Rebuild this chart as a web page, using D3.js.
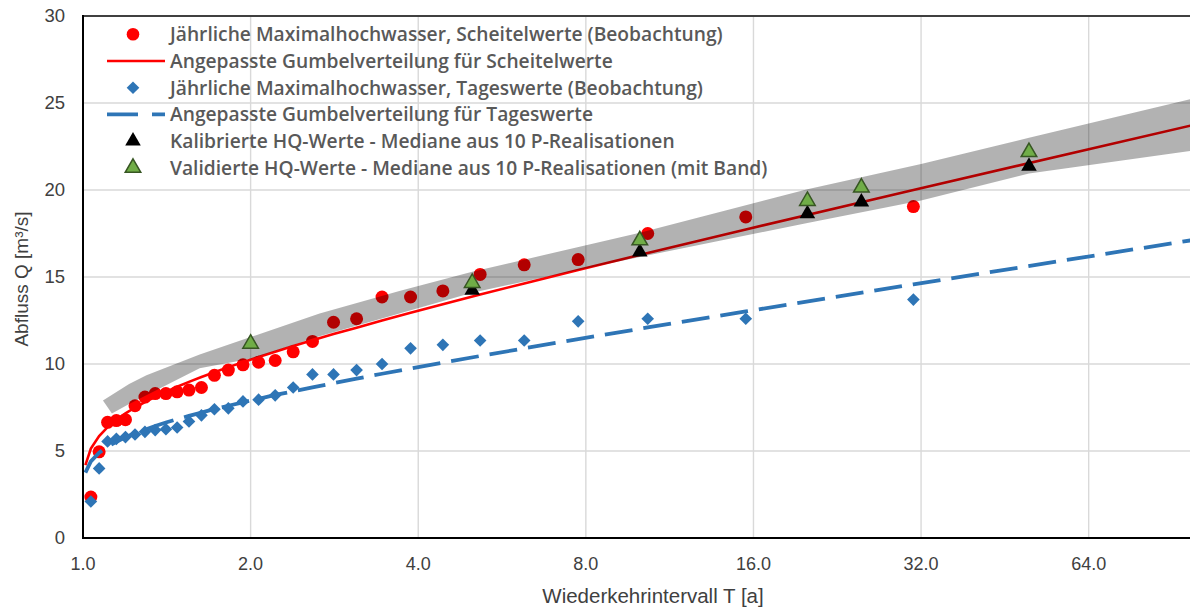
<!DOCTYPE html>
<html>
<head>
<meta charset="utf-8">
<script src="https://cdn.jsdelivr.net/npm/d3@7"></script>
<style>
  body { margin: 0; background: #fff; }
  svg { display: block; }
</style>
</head>
<body>
<svg id="chart" width="1190" height="609"></svg>
<script>
// Return periods (Weibull plotting positions) of the 30 annual maxima
const obsT = [1.033, 1.069, 1.107, 1.148, 1.192, 1.240, 1.292, 1.348, 1.409, 1.476,
              1.550, 1.632, 1.722, 1.824, 1.938, 2.067, 2.214, 2.385, 2.583, 2.818,
              3.100, 3.444, 3.875, 4.429, 5.167, 6.200, 7.750, 10.333, 15.500, 31.000];
// Annual flood peaks (Scheitelwerte) [m³/s]
const peakObs = [2.35, 4.95, 6.65, 6.75, 6.80, 7.60, 8.10, 8.30, 8.30, 8.40,
                 8.50, 8.65, 9.35, 9.65, 9.95, 10.10, 10.20, 10.70, 11.30, 12.40,
                 12.60, 13.85, 13.85, 14.20, 15.15, 15.70, 16.00, 17.50, 18.45, 19.05];
// Annual maxima of daily means (Tageswerte) [m³/s]
const dailyObs = [2.10, 4.00, 5.55, 5.70, 5.80, 5.95, 6.10, 6.20, 6.25, 6.35,
                  6.70, 7.05, 7.40, 7.45, 7.85, 7.95, 8.20, 8.65, 9.40, 9.40,
                  9.65, 10.00, 10.90, 11.10, 11.35, 11.35, 12.45, 12.60, 12.60, 13.70];

// Fitted Gumbel curves
const fitT = [1.01, 1.033, 1.069, 1.107, 1.148, 1.192, 1.240, 1.292, 1.348, 1.409, 1.476,
              1.550, 1.632, 1.722, 1.824, 1.938, 2.067, 2.214, 2.385, 2.583, 2.818,
              3.100, 3.444, 3.875, 4.429, 5.167, 6.200, 7.750, 10.333, 15.500, 31.000, 100];
const peakFit = [4.19, 5.14, 5.86, 6.37, 6.79, 7.16, 7.50, 7.81, 8.11, 8.40, 8.69,
                 8.97, 9.25, 9.53, 9.82, 10.10, 10.40, 10.71, 11.03, 11.36, 11.72,
                 12.09, 12.50, 12.94, 13.44, 13.99, 14.63, 15.40, 16.38, 17.73, 20.00, 23.78];
const dailyFit = [3.76, 4.40, 4.90, 5.25, 5.53, 5.79, 6.02, 6.23, 6.44, 6.64, 6.83,
                  7.02, 7.21, 7.41, 7.60, 7.80, 8.00, 8.22, 8.43, 8.66, 8.90,
                  9.16, 9.44, 9.74, 10.08, 10.46, 10.90, 11.43, 12.10, 13.02, 14.58, 17.16];

// Model HQ values (median of 10 parameter realisations)
const hqT = [2, 5, 10, 20, 25, 50];
const hqCalibrated = [11.17, 14.24, 16.44, 18.64, 19.31, 21.36];
const hqValidated  = [11.17, 14.66, 17.11, 19.37, 20.14, 22.18];

// Uncertainty band of the validated realisations
const bandUpperT = [1.086, 1.21, 1.30, 1.62, 2, 2.66, 3.7, 5, 10, 20, 32, 50, 100];
const bandUpper  = [7.9, 8.85, 9.35, 10.55, 11.55, 12.9, 14.2, 15.3, 17.55, 20.05, 21.5, 23.0, 25.3];
const bandLowerT = [1.127, 1.21, 1.62, 2, 2.66, 3.7, 5, 10, 20, 32, 50, 100];
const bandLower  = [7.15, 7.7, 9.75, 10.3, 11.6, 12.9, 14.1, 16.15, 18.1, 19.4, 20.95, 22.3];

// Axis ticks
const xTicks = [1, 2, 4, 8, 16, 32, 64];
const yTicks = [0, 5, 10, 15, 20, 25, 30];

const legendLabels = [
  "Jährliche Maximalhochwasser, Scheitelwerte (Beobachtung)",
  "Angepasste Gumbelverteilung für Scheitelwerte",
  "Jährliche Maximalhochwasser, Tageswerte (Beobachtung)",
  "Angepasste Gumbelverteilung für Tageswerte",
  "Kalibrierte HQ-Werte - Mediane aus 10 P-Realisationen",
  "Validierte HQ-Werte - Mediane aus 10 P-Realisationen (mit Band)"
];

(function () {
const RED = "#ff0000", BLUE = "#2e75b6", GREEN = "#70ad47", GREEN_DARK = "#375623";
const TEXT = "#595959";

const svg = d3.select("#chart");
const plotLeft = 83, plotTop = 16, plotBottom = 538;

const x = d3.scaleLog().base(2).domain([1, 100]).range([plotLeft, 1196.6]);
const y = d3.scaleLinear().domain([0, 30]).range([plotBottom, plotTop]);
const plotRight = x(100);

svg.append("defs").append("clipPath").attr("id", "plotClip")
  .append("rect").attr("x", plotLeft).attr("y", plotTop)
  .attr("width", plotRight - plotLeft).attr("height", plotBottom - plotTop);

// Gridlines
const grid = svg.append("g");
grid.selectAll("line.h").data(yTicks.filter(v => v > 0 && v < 30)).join("line")
  .attr("x1", plotLeft).attr("x2", plotRight).attr("y1", d => y(d)).attr("y2", d => y(d))
  .attr("stroke", "#d9d9d9").attr("stroke-width", 1.4);
grid.selectAll("line.v").data(xTicks.filter(v => v > 1)).join("line")
  .attr("x1", d => x(d)).attr("x2", d => x(d)).attr("y1", plotTop).attr("y2", plotBottom)
  .attr("stroke", "#d9d9d9").attr("stroke-width", 1.4);

const plot = svg.append("g").attr("clip-path", "url(#plotClip)");

// Observations
plot.append("g").selectAll("circle").data(obsT).join("circle")
  .attr("cx", d => x(d)).attr("cy", (d, i) => y(peakObs[i])).attr("r", 6.5)
  .attr("fill", RED);

const diamond = d3.symbol().type(d3.symbolSquare).size(80);
plot.append("g").selectAll("path").data(obsT).join("path")
  .attr("d", diamond)
  .attr("transform", (d, i) => `translate(${x(d)},${y(dailyObs[i])}) rotate(45)`)
  .attr("fill", BLUE);

// Fitted curves
const fitLine = vals => d3.line().x(d => x(d)).y((d, i) => y(vals[i]));
plot.append("path").datum(fitT).attr("d", fitLine(dailyFit))
  .attr("fill", "none").attr("stroke", BLUE).attr("stroke-width", 3.8)
  .attr("stroke-dasharray", "28,11");
plot.append("path").datum(fitT).attr("d", fitLine(peakFit))
  .attr("fill", "none").attr("stroke", RED).attr("stroke-width", 2.6);

// Band (translucent, over points and curves)
const bandPts = bandUpperT.map((t, i) => [x(t), y(bandUpper[i])])
  .concat(bandLowerT.map((t, i) => [x(t), y(bandLower[i])]).reverse());
plot.append("path").attr("d", d3.line()(bandPts) + "Z")
  .attr("fill", "rgba(0,0,0,0.3)");

// HQ triangles
const tri = d3.symbol().type(d3.symbolTriangle).size(105);
plot.append("g").selectAll("path").data(hqT).join("path")
  .attr("d", tri)
  .attr("transform", (d, i) => `translate(${x(d)},${y(hqCalibrated[i])})`)
  .attr("fill", "#000");
plot.append("g").selectAll("path").data(hqT).join("path")
  .attr("d", tri)
  .attr("transform", (d, i) => `translate(${x(d)},${y(hqValidated[i])})`)
  .attr("fill", GREEN).attr("stroke", GREEN_DARK).attr("stroke-width", 1.5);

// Axes frame
svg.append("line").attr("x1", plotLeft).attr("x2", plotRight).attr("y1", plotTop).attr("y2", plotTop)
  .attr("stroke", "#404040").attr("stroke-width", 2);
svg.append("line").attr("x1", plotLeft).attr("x2", plotLeft).attr("y1", plotTop - 1).attr("y2", plotBottom + 1)
  .attr("stroke", "#000").attr("stroke-width", 2);
svg.append("line").attr("x1", plotLeft - 1).attr("x2", plotRight).attr("y1", plotBottom).attr("y2", plotBottom)
  .attr("stroke", "#000").attr("stroke-width", 2);

// Tick labels
const font = "'Liberation Sans', Arial, sans-serif";
svg.append("g").selectAll("text").data(yTicks).join("text")
  .attr("x", 65).attr("y", d => y(d)).attr("dy", "0.35em")
  .attr("text-anchor", "end").attr("font-family", font).attr("font-size", 18.5)
  .attr("fill", "#404040").text(d => d);
svg.append("g").selectAll("text").data(xTicks).join("text")
  .attr("x", d => x(d)).attr("y", 570)
  .attr("text-anchor", "middle").attr("font-family", font).attr("font-size", 18)
  .attr("fill", "#404040").text(d => d3.format(".1f")(d));

// Axis titles
svg.append("text").attr("x", 653).attr("y", 603).attr("text-anchor", "middle")
  .attr("font-family", font).attr("font-size", 20.5).attr("fill", "#404040")
  .text("Wiederkehrintervall T [a]");
svg.append("text").attr("transform", "translate(28,279) rotate(-90)")
  .attr("text-anchor", "middle").attr("font-family", font).attr("font-size", 19)
  .attr("fill", "#404040").text("Abfluss Q [m³/s]");

// Legend
const legend = svg.append("g");
const rowY = i => 34.3 + i * 26.7;
const symX = 133;
legend.append("circle").attr("cx", symX).attr("cy", rowY(0)).attr("r", 6.3).attr("fill", RED);
legend.append("line").attr("x1", 107).attr("x2", 165).attr("y1", rowY(1)).attr("y2", rowY(1))
  .attr("stroke", RED).attr("stroke-width", 2.6);
legend.append("path").attr("d", diamond)
  .attr("transform", `translate(${symX},${rowY(2)}) rotate(45)`).attr("fill", BLUE);
legend.append("line").attr("x1", 107).attr("x2", 165).attr("y1", rowY(3)).attr("y2", rowY(3))
  .attr("stroke", BLUE).attr("stroke-width", 3.8).attr("stroke-dasharray", "31,14");
legend.append("path").attr("d", tri).attr("transform", `translate(${symX},${rowY(4)})`).attr("fill", "#000");
legend.append("path").attr("d", tri).attr("transform", `translate(${symX},${rowY(5)})`)
  .attr("fill", GREEN).attr("stroke", GREEN_DARK).attr("stroke-width", 1.5);

const legendText = legend.selectAll("text").data(legendLabels).join("text")
  .attr("x", 170).attr("y", (d, i) => rowY(i)).attr("dy", "0.36em")
  .attr("font-family", "'Open Sans', 'Noto Sans', sans-serif").attr("font-weight", 600)
  .attr("font-size", 18).attr("fill", TEXT).text(d => d);
// size the legend font so the first entry spans its intended width
const w0 = legendText.nodes()[0].getComputedTextLength();
legendText.attr("font-size", 18 * 553 / w0);
})();
</script>
</body>
</html>
